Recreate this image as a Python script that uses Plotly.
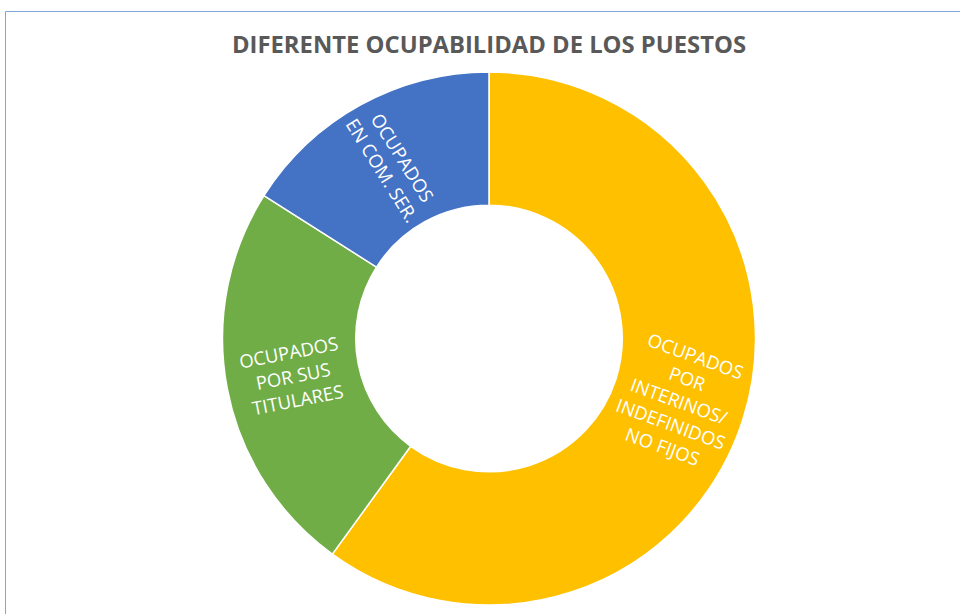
import numpy as np
import plotly.graph_objects as go

# data
labels = ['OCUPADOS POR INTERINOS/ INDEFINIDOS NO FIJOS',
          'OCUPADOS POR SUS TITULARES',
          'OCUPADOS EN COM. SER.']
values = [60, 24, 16]
label_text = ['OCUPADOS<br>POR<br>INTERINOS/<br>INDEFINIDOS<br>NO FIJOS',
              'OCUPADOS<br>POR SUS<br>TITULARES',
              'OCUPADOS<br>EN COM. SER.']
label_angle = [20, -11, 58]
colors = ['#FFC000', '#70AD47', '#4472C4']

W, H = 960, 614
cx, cy, R = 489, 338.5, 266.5
hole = 0.5

dom_x = [(cx - R) / W, (cx + R) / W]
dom_y = [1 - (cy + R) / H, 1 - (cy - R) / H]

fig = go.Figure()
fig.add_trace(go.Pie(
    labels=labels, values=values, sort=False, direction='clockwise',
    rotation=0, hole=hole, textinfo='none', hoverinfo='label+percent',
    marker=dict(colors=colors, line=dict(color='white', width=1.5)),
    domain=dict(x=dom_x, y=dom_y), showlegend=False,
))

# slice labels placed at each slice's mid angle
total = sum(values)
cum = 0
for v, txt, ang in zip(values, label_text, label_angle):
    mid = (cum + v / 2) / total * 2 * np.pi
    cum += v
    r = R * 0.75
    px_ = cx + r * np.sin(mid)
    py_ = cy - r * np.cos(mid)
    fig.add_annotation(x=px_ / W, y=1 - py_ / H, xref='paper', yref='paper',
                       xanchor='center', yanchor='middle',
                       text=txt, showarrow=False, textangle=ang,
                       font=dict(family='Open Sans', size=18.5, color='white'))

fig.add_shape(type='rect', xref='paper', yref='paper',
              x0=5.5 / W, x1=1.01, y0=-0.01, y1=1 - 11.5 / H,
              line=dict(color='#7FA7DB', width=1))

fig.update_layout(
    width=W, height=H,
    margin=dict(l=0, r=0, t=0, b=0),
    paper_bgcolor='white', plot_bgcolor='white',
    title=dict(text='<b>DIFERENTE OCUPABILIDAD DE LOS PUESTOS</b>',
               x=cx / W, xanchor='center', y=1 - 45 / H, yanchor='middle',
               font=dict(family='Open Sans', size=23.8, color='#595959')),
)

fig.write_html('out.html', config={'displayModeBar': False},
               post_script="document.body.style.margin='0';document.body.style.overflow='hidden';")
